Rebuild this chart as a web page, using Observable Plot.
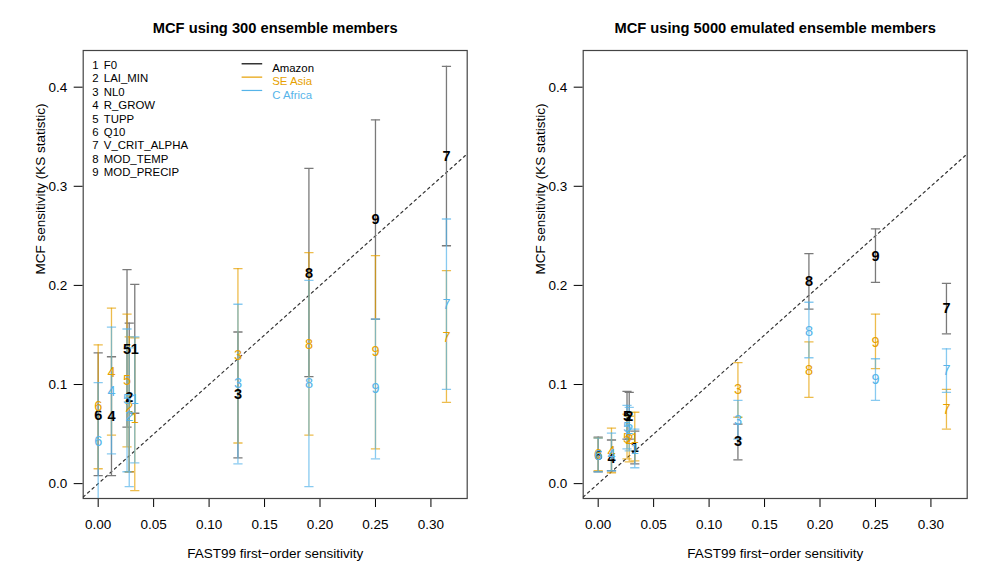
<!DOCTYPE html>
<html>
<head>
<meta charset="utf-8">
<script src="https://cdn.jsdelivr.net/npm/d3@7"></script>
<script src="https://cdn.jsdelivr.net/npm/@observablehq/plot@0.6"></script>
<style>
  html, body { margin: 0; padding: 0; background: #fff; }
  #wrap { display: flex; width: 1000px; height: 583px; }
</style>
</head>
<body>
<div id="wrap"></div>
<script>
// ---------------- data ----------------
const params = [1, 2, 3, 4, 5, 6, 7, 8, 9];
const paramNames = ["F0", "LAI_MIN", "NL0", "R_GROW", "TUPP", "Q10", "V_CRIT_ALPHA", "MOD_TEMP", "MOD_PRECIP"];
// FAST99 first-order sensitivity per parameter (x position)
const fast99 = [0.033, 0.028, 0.126, 0.012, 0.026, 0.000, 0.314, 0.190, 0.250];

const regions = ["Amazon", "SE Asia", "C Africa"];
const regionColors = ["#000000", "#E69F00", "#56B4E9"];
const regionBarColors = ["#7a7a7a", "#E69F00", "#56B4E9"];

// Panel 1: 300 ensemble members (mid, lower, upper) per parameter 1..9
const amazon300Mid = [0.135, 0.087, 0.090, 0.068, 0.135, 0.069, 0.330, 0.212, 0.267];
const amazon300Lo  = [0.071, 0.012, 0.026, 0.008, 0.057, 0.008, 0.240, 0.108, 0.166];
const amazon300Hi  = [0.201, 0.162, 0.153, 0.128, 0.216, 0.132, 0.421, 0.318, 0.367];
const seasia300Mid = [0.066, 0.077, 0.129, 0.112, 0.104, 0.078, 0.148, 0.141, 0.133];
const seasia300Lo  = [-0.007, 0.012, 0.041, 0.049, 0.037, 0.015, 0.082, 0.049, 0.035];
const seasia300Hi  = [0.147, 0.148, 0.217, 0.177, 0.171, 0.140, 0.215, 0.233, 0.230];
const cafrica300Mid = [0.085, 0.068, 0.101, 0.093, 0.085, 0.043, 0.181, 0.101, 0.096];
const cafrica300Lo  = [0.021, -0.003, 0.020, 0.030, 0.012, -0.020, 0.095, -0.003, 0.025];
const cafrica300Hi  = [0.148, 0.137, 0.181, 0.158, 0.156, 0.102, 0.267, 0.205, 0.166];

// Panel 2: 5000 emulated ensemble members
const amazon5000Mid = [0.037, 0.068, 0.043, 0.026, 0.068, 0.029, 0.177, 0.204, 0.229];
const amazon5000Lo  = [0.020, 0.045, 0.024, 0.013, 0.045, 0.012, 0.151, 0.176, 0.203];
const amazon5000Hi  = [0.053, 0.092, 0.060, 0.044, 0.093, 0.047, 0.202, 0.232, 0.257];
const seasia5000Mid = [0.046, 0.045, 0.095, 0.033, 0.046, 0.030, 0.075, 0.114, 0.143];
const seasia5000Lo  = [0.023, 0.022, 0.067, 0.011, 0.025, 0.013, 0.055, 0.087, 0.116];
const seasia5000Hi  = [0.072, 0.068, 0.122, 0.056, 0.070, 0.046, 0.095, 0.143, 0.171];
const cafrica5000Mid = [0.035, 0.055, 0.064, 0.030, 0.057, 0.029, 0.114, 0.154, 0.105];
const cafrica5000Lo  = [0.016, 0.033, 0.045, 0.013, 0.035, 0.012, 0.092, 0.127, 0.084];
const cafrica5000Hi  = [0.055, 0.077, 0.084, 0.051, 0.079, 0.046, 0.136, 0.183, 0.126];

const xTicks = [0, 0.05, 0.10, 0.15, 0.20, 0.25, 0.30];
const yTicks = [0, 0.1, 0.2, 0.3, 0.4];
const xDomain = [-0.0135, 0.3327];
const yDomain = [-0.015, 0.437];

const titles = ["MCF using 300 ensemble members", "MCF using 5000 emulated ensemble members"];
const xLabel = "FAST99 first\u2212order sensitivity";
const yLabel = "MCF sensitivity (KS statistic)";

// ---------------- helpers ----------------
function rows(mid, lo, hi) {
  return params.map((p, i) => ({param: p, x: fast99[i], mid: mid[i], lo: lo[i], hi: hi[i]}));
}
const capSymbol = {
  draw(ctx, size) {
    const w = Math.sqrt(size / Math.PI);
    ctx.moveTo(-w, 0);
    ctx.lineTo(w, 0);
  }
};
const FONT = "'Liberation Sans', Arial, Helvetica, sans-serif";

function panel(title, series, showLegend) {
  const marks = [];
  marks.push(Plot.frame({stroke: "#444", strokeWidth: 1.2}));
  marks.push(Plot.line(xDomain, {x: d => d, y: d => d, stroke: "#333", strokeWidth: 1.2, strokeDasharray: "2.5,3.5", clip: true}));
  series.forEach((data, k) => {
    const op = k === 0 ? 1 : 0.7;
    marks.push(Plot.ruleX(data, {x: "x", y1: "lo", y2: "hi", stroke: regionBarColors[k], strokeOpacity: op, strokeWidth: 1.3, clip: true}));
    marks.push(Plot.dot(data, {x: "x", y: "lo", symbol: capSymbol, r: 4.6, fill: "none", stroke: regionBarColors[k], strokeOpacity: op, strokeWidth: 1.3, clip: true}));
    marks.push(Plot.dot(data, {x: "x", y: "hi", symbol: capSymbol, r: 4.6, fill: "none", stroke: regionBarColors[k], strokeOpacity: op, strokeWidth: 1.3, clip: true}));
  });
  series.forEach((data, k) => {
    marks.push(Plot.text(data, {x: "x", y: "mid", text: d => String(d.param), fill: regionColors[k], fontSize: 14.5, fontWeight: k === 0 ? "bold" : "normal"}));
  });
  // titles and axis labels
  marks.push(Plot.text([title], {frameAnchor: "top", dy: -28, text: d => d, fontSize: 14.7, fontWeight: "bold", fill: "#000"}));
  marks.push(Plot.text([xLabel], {frameAnchor: "bottom", dy: 59, text: d => d, fontSize: 13.5, fill: "#000"}));
  marks.push(Plot.text([yLabel], {frameAnchor: "left", dx: -43, rotate: -90, text: d => d, fontSize: 13.5, fill: "#000"}));
  if (showLegend) {
    marks.push(Plot.text([params.join("\n")], {frameAnchor: "top-left", dx: 9, dy: 9.2, text: d => d, textAnchor: "start", lineAnchor: "top", lineHeight: 1.17, fontSize: 11.4, fill: "#000"}));
    marks.push(Plot.text([paramNames.join("\n")], {frameAnchor: "top-left", dx: 20.6, dy: 9.2, text: d => d, textAnchor: "start", lineAnchor: "top", lineHeight: 1.17, fontSize: 11.4, fill: "#000"}));
    regions.forEach((r, k) => {
      marks.push(Plot.dot([r], {frameAnchor: "top-left", dx: 168.7, dy: 13.3 + 13.33 * k, symbol: capSymbol, r: 10.3, fill: "none", stroke: regionColors[k], strokeWidth: 1.2}));
      marks.push(Plot.text([r], {frameAnchor: "top-left", dx: 189, dy: 13.3 + 13.33 * k, text: d => d, textAnchor: "start", fontSize: 11.4, fill: regionColors[k]}));
    });
  }
  return Plot.plot({
    width: 500,
    height: 583,
    marginLeft: 82.7,
    marginRight: 33.3,
    marginTop: 50,
    marginBottom: 85,
    style: {fontFamily: FONT, fontSize: "13.5px", background: "#fff", color: "#000", overflow: "visible"},
    x: {domain: xDomain, ticks: xTicks, tickFormat: d3.format(".2f"), tickSize: 9, tickPadding: 12, label: null},
    y: {domain: yDomain, ticks: yTicks, tickFormat: d3.format(".1f"), tickSize: 9, tickPadding: 7, label: null},
    marks
  });
}

const wrap = document.getElementById("wrap");
wrap.appendChild(panel(titles[0], [
  rows(amazon300Mid, amazon300Lo, amazon300Hi),
  rows(seasia300Mid, seasia300Lo, seasia300Hi),
  rows(cafrica300Mid, cafrica300Lo, cafrica300Hi)
], true));
wrap.appendChild(panel(titles[1], [
  rows(amazon5000Mid, amazon5000Lo, amazon5000Hi),
  rows(seasia5000Mid, seasia5000Lo, seasia5000Hi),
  rows(cafrica5000Mid, cafrica5000Lo, cafrica5000Hi)
], false));
</script>
</body>
</html>
